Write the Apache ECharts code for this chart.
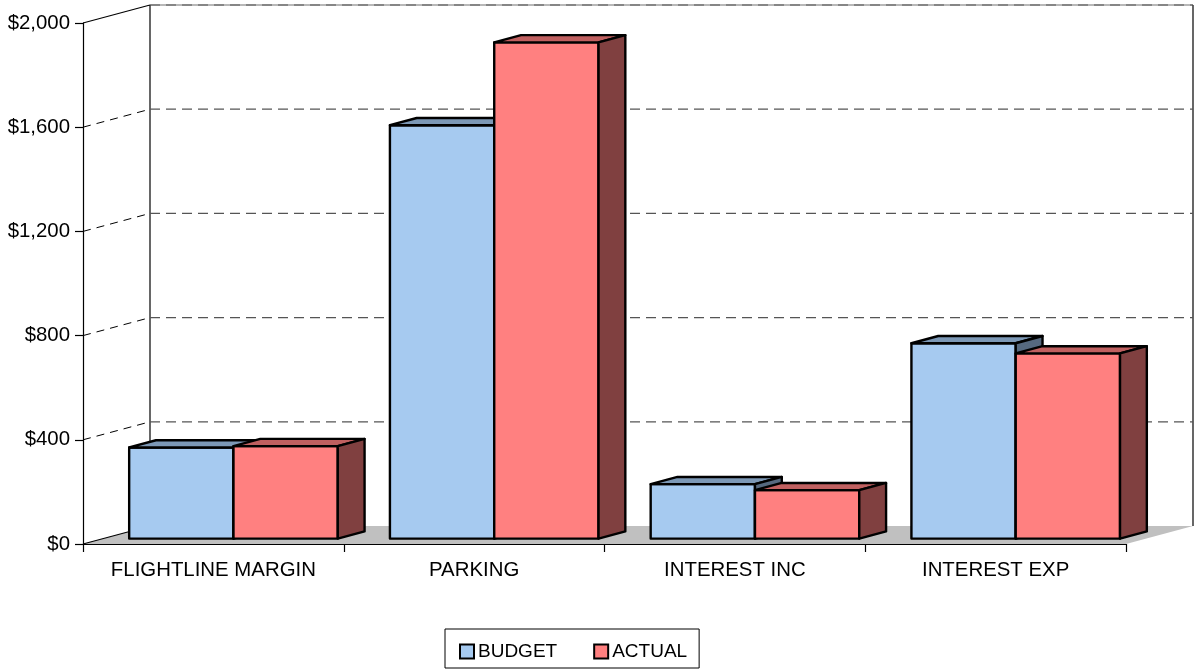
<!DOCTYPE html>
<html>
<head>
<meta charset="utf-8">
<style>
  html, body { margin: 0; padding: 0; background: #fff; }
  #chart { width: 1196px; height: 670px; }
</style>
<script src="https://cdn.jsdelivr.net/npm/echarts@6/dist/echarts.min.js"></script>
</head>
<body>
<div id="chart"></div>
<script>
// Budget vs. actual by line item (dollars)
const categories = ['FLIGHTLINE MARGIN', 'PARKING', 'INTEREST INC', 'INTEREST EXP'];
const budget = [350, 1587, 209, 750];
const actual = [355, 1905, 186, 711];
const yTicks = [0, 400, 800, 1200, 1600, 2000];

const FONT = '"Liberation Sans", Arial, sans-serif';

// Oblique depth of the chart box (pixels from front plane to back wall)
const DEPTH = [67, -18];
// Bars sit between these fractions of the depth
const BAR_FRONT = 0.3, BAR_BACK = 0.7;
const BAR_FRAC = 0.4;            // width of one bar as a share of a category band

const palette = {
  BUDGET: { front: '#A6CAF0', top: '#7C98B6', side: '#56697F' },
  ACTUAL: { front: '#FF8080', top: '#C06060', side: '#804040' }
};

const chart = echarts.init(document.getElementById('chart'), null, { renderer: 'canvas' });

function line(x1, y1, x2, y2, style) {
  return { type: 'line', shape: { x1, y1, x2, y2 }, style: Object.assign({ fill: null }, style) };
}

// Floor, wall edges
function renderBox(params, api) {
  const cs = params.coordSys;
  const gx = cs.x, gy = cs.y, gw = cs.width, gh = cs.height;
  const [dx, dy] = DEPTH;
  const yb = gy + gh;
  return {
    type: 'group',
    children: [
      { type: 'polygon', shape: { points: [[gx, yb], [gx + dx, yb + dy], [gx + gw + dx, yb + dy], [gx + gw, yb]] },
        style: { fill: '#C0C0C0' } },
      line(gx + dx, gy + dy, gx + gw + dx, gy + dy, { stroke: '#A0A0A0', lineWidth: 1.5 }),
      line(gx, gy, gx + dx, gy + dy, { stroke: '#000', lineWidth: 1.2 }),
      line(gx, yb, gx + dx, yb + dy, { stroke: '#000', lineWidth: 1.2 }),
      line(gx + dx, gy + dy, gx + dx, yb + dy, { stroke: '#000', lineWidth: 1.2 }),
      line(gx + gw + dx, gy + dy, gx + gw + dx, yb + dy, { stroke: '#000', lineWidth: 1.2 })
    ]
  };
}

// Dashed gridlines on the left wall and back wall
function renderGrid(params, api) {
  const cs = params.coordSys;
  const gx = cs.x, gw = cs.width;
  const [dx, dy] = DEPTH;
  const v = api.value(1);
  const y = api.coord([0, v])[1];
  const children = [
    line(gx + dx, y + dy, gx + gw + dx, y + dy, { stroke: '#555', lineWidth: 1.2, lineDash: [10, 6] })
  ];
  if (v < yTicks[yTicks.length - 1]) {
    children.push(line(gx, y, gx + dx, y + dy, { stroke: '#000', lineWidth: 1, lineDash: [8, 6] }));
  }
  return { type: 'group', children };
}

function barRenderer(slot, colors) {
  return function (params, api) {
    const cat = api.value(0), val = api.value(1);
    const band = api.size([1, 0])[0];
    const base = api.coord([cat, 0]);
    const top = api.coord([cat, val]);
    const bw = band * BAR_FRAC;
    const fx = DEPTH[0] * BAR_FRONT, fy = DEPTH[1] * BAR_FRONT;
    const ddx = DEPTH[0] * (BAR_BACK - BAR_FRONT), ddy = DEPTH[1] * (BAR_BACK - BAR_FRONT);
    const x0 = base[0] - bw + slot * bw + fx;
    const x1 = x0 + bw;
    const yb = base[1] + fy;
    const yt = top[1] + fy;
    const stroke = { stroke: '#000', lineWidth: 2.4, lineJoin: 'round' };
    return {
      type: 'group',
      children: [
        { type: 'polygon', shape: { points: [[x0, yb], [x1, yb], [x1, yt], [x0, yt]] },
          style: Object.assign({ fill: colors.front }, stroke) },
        { type: 'polygon', shape: { points: [[x0, yt], [x1, yt], [x1 + ddx, yt + ddy], [x0 + ddx, yt + ddy]] },
          style: Object.assign({ fill: colors.top }, stroke) },
        { type: 'polygon', shape: { points: [[x1, yb], [x1 + ddx, yb + ddy], [x1 + ddx, yt + ddy], [x1, yt]] },
          style: Object.assign({ fill: colors.side }, stroke) }
      ]
    };
  };
}

const option = {
  animation: false,
  backgroundColor: '#fff',
  textStyle: { fontFamily: FONT },
  grid: { left: 83, top: 23, right: 70, bottom: 126 },
  xAxis: {
    type: 'category',
    data: categories,
    boundaryGap: true,
    axisLine: { lineStyle: { color: '#000', width: 1.2 } },
    axisTick: { show: true, interval: 0, length: 8, lineStyle: { color: '#000', width: 1.2 } },
    axisLabel: { color: '#000', fontSize: 20.4, fontFamily: FONT, margin: 16, interval: 0 },
    splitLine: { show: false }
  },
  yAxis: {
    type: 'value',
    min: yTicks[0],
    max: yTicks[yTicks.length - 1],
    interval: yTicks[1] - yTicks[0],
    axisLine: { show: true, lineStyle: { color: '#000', width: 1.2 } },
    axisTick: { show: true, length: 8, lineStyle: { color: '#000', width: 1.2 } },
    axisLabel: {
      color: '#000', fontSize: 20.4, fontFamily: FONT, margin: 13,
      formatter: v => '$' + v.toLocaleString('en-US')
    },
    splitLine: { show: false }
  },
  legend: {
    data: ['BUDGET', 'ACTUAL'],
    left: 445,
    top: 629,
    icon: 'rect',
    itemWidth: 14,
    itemHeight: 14,
    itemGap: 36,
    padding: [13, 12, 7, 14],
    borderColor: '#000',
    borderWidth: 1,
    textStyle: { color: '#000', fontSize: 19, fontFamily: FONT, padding: [0, 0, 0, -1] },
    itemStyle: { borderColor: '#000', borderWidth: 2 }
  },
  series: [
    {
      type: 'custom', name: 'box', z: 1, clip: false, silent: true,
      renderItem: renderBox,
      data: [[0, 0]]
    },
    {
      type: 'custom', name: 'grid', z: 2, clip: false, silent: true,
      renderItem: renderGrid,
      data: yTicks.filter(v => v > 0).map(v => [0, v])
    },
    {
      type: 'custom', name: 'BUDGET', z: 3, clip: false,
      itemStyle: { color: palette.BUDGET.front, borderColor: '#000' },
      renderItem: barRenderer(0, palette.BUDGET),
      data: budget.map((v, i) => [i, v])
    },
    {
      type: 'custom', name: 'ACTUAL', z: 4, clip: false,
      itemStyle: { color: palette.ACTUAL.front, borderColor: '#000' },
      renderItem: barRenderer(1, palette.ACTUAL),
      data: actual.map((v, i) => [i, v])
    }
  ]
};

chart.setOption(option);
</script>
</body>
</html>
